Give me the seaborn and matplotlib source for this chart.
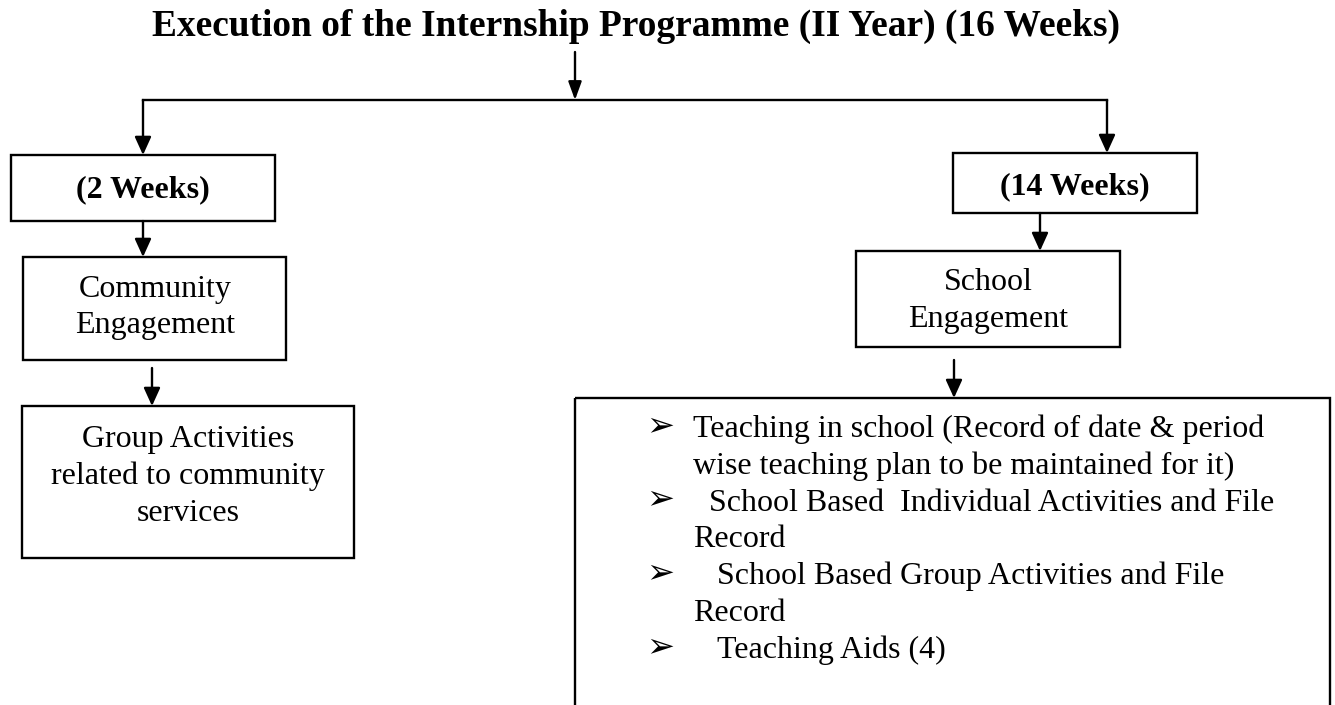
import matplotlib
matplotlib.use("Agg")
import matplotlib.pyplot as plt
from matplotlib.patches import Rectangle
import seaborn as sns

# ---- text content ----
title = "Execution of the Internship Programme (II Year) (16 Weeks)"
phase_labels = ["(2 Weeks)", "(14 Weeks)"]
left_steps = [["Community", "Engagement"],
              ["Group Activities", "related to community", "services"]]
right_step = ["School", "Engagement"]
school_items = [
    ["Teaching in school (Record of date & period",
     "wise teaching plan to be maintained for it)"],
    ["School Based  Individual Activities and File", "Record"],
    ["School Based Group Activities and File", "Record"],
    ["Teaching Aids (4)"],
]

sns.set_theme(style="white")
plt.rcParams["font.family"] = ["Liberation Serif", "DejaVu Sans"]
plt.rcParams["text.color"] = "black"

W, H = 1335, 705
fig = plt.figure(figsize=(W / 100, H / 100), dpi=100)
ax = fig.add_axes([0, 0, 1, 1])
ax.set_xlim(0, W)
ax.set_ylim(H, 0)
ax.set_axis_off()
sns.despine(ax=ax, left=True, bottom=True)
renderer = fig.canvas.get_renderer()

LW = 1.7


def fit_size(text, target_px, weight="normal"):
    t = fig.text(0, 0, text, fontsize=20, weight=weight)
    w = t.get_window_extent(renderer).width
    t.remove()
    return 20 * target_px / w


def box(x0, y0, x1, y1):
    ax.add_patch(Rectangle((x0, y0), x1 - x0, y1 - y0, fill=False,
                           lw=LW, ec="black", clip_on=False))


def arrow(x, y0, y1, hw=0.5):
    ax.annotate("", xy=(x, y1), xytext=(x, y0),
                arrowprops=dict(arrowstyle=f"-|>,head_length=1.1,head_width={hw}",
                                lw=LW, color="black", shrinkA=0, shrinkB=0,
                                mutation_scale=10))


def lines(cx, baselines, texts, size, weight="normal", ha="center"):
    for yb, s in zip(baselines, texts):
        ax.text(cx, yb, s, fontsize=size, weight=weight, ha=ha, va="baseline",
                color="black")


body = fit_size(school_items[0][0], 570)
title_size = fit_size(title, 966, weight="bold")

# title and split
ax.text(152, 36, title, fontsize=title_size, weight="bold", ha="left",
        va="baseline", color="black")
arrow(575, 52, 100, hw=0.4)
ax.plot([143, 1107], [100, 100], color="black", lw=LW, solid_capstyle="projecting")

# left branch
arrow(143, 100, 155)
box(11, 155, 275, 221)
lines(143, [197], [phase_labels[0]], body, weight="bold")
arrow(143, 221, 257)
box(23, 257, 286, 360)
lines(155, [297, 333], left_steps[0], body)
arrow(152, 368, 406)
box(22, 406, 354, 558)
lines(188, [447, 484, 521], left_steps[1], body)

# right branch
arrow(1107, 100, 153)
box(953, 153, 1197, 213)
lines(1075, [194], [phase_labels[1]], body, weight="bold")
arrow(1040, 213, 251)
box(856, 251, 1120, 347)
lines(988, [290, 327], right_step, body)
arrow(954, 360, 398)
box(575, 398, 1330, 740)

# bullet list
starts = [693, 709, 717, 717]
yb = 437
step = 36.8
for x0, item in zip(starts, school_items):
    ax.text(646, yb - 2, "\u27a2", fontsize=body * 1.05, ha="left", va="baseline",
            family="DejaVu Sans", color="black")
    for i, s in enumerate(item):
        ax.text(x0 if i == 0 else 693, yb, s, fontsize=body, ha="left",
                va="baseline", color="black")
        yb += step

fig.savefig("out.png", dpi=100, facecolor="white")
